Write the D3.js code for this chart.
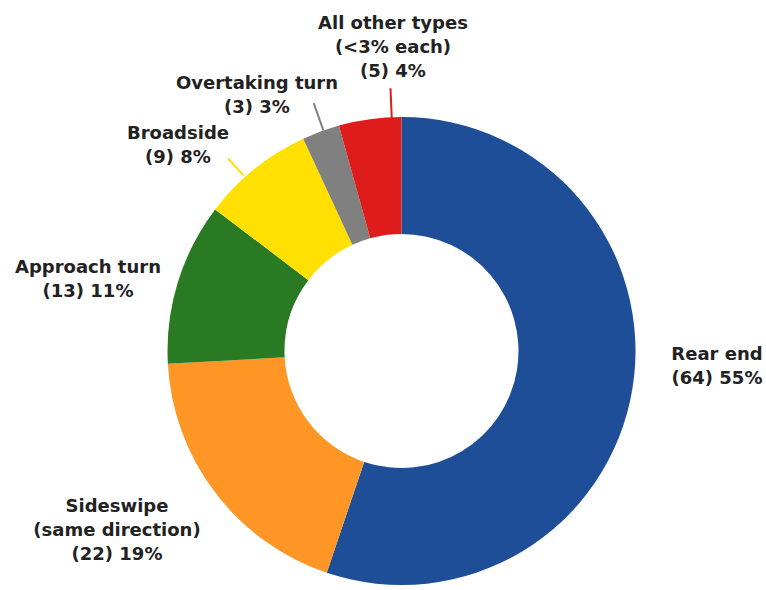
<!DOCTYPE html>
<html>
<head>
<meta charset="utf-8">
<script src="https://cdn.jsdelivr.net/npm/d3@7"></script>
<style>
  html, body { margin: 0; padding: 0; background: #fff; }
  svg { display: block; }
  text { font-family: "DejaVu Sans", Verdana, sans-serif; font-weight: bold; font-size: 18px; fill: #222; }
</style>
</head>
<body>
<svg id="chart" width="766" height="590"></svg>
<script>
// ---- data ----
const categories = ["Rear end", "Sideswipe (same direction)", "Approach turn", "Broadside", "Overtaking turn", "All other types"];
const counts = [64, 22, 13, 9, 3, 5];
const percents = [55, 19, 11, 8, 3, 4];
const labelLines = [
  ["Rear end", "(64) 55%"],
  ["Sideswipe", "(same direction)", "(22) 19%"],
  ["Approach turn", "(13) 11%"],
  ["Broadside", "(9) 8%"],
  ["Overtaking turn", "(3) 3%"],
  ["All other types", "(<3% each)", "(5) 4%"]
];
const colors = ["#1f4e99", "#ff9626", "#2a7a24", "#ffe000", "#808080", "#df1c1c"];

// ---- layout ----
const cx = 401.5, cy = 351, rOuter = 234, rInner = 117;
// label block: centre x, first-line visual centre y
const labelPos = [
  {x: 717, y: 353},
  {x: 117, y: 505},
  {x: 88,  y: 266},
  {x: 178, y: 132},
  {x: 257, y: 82},
  {x: 393, y: 22}
];
const lineGap = 24;
// leader lines: angle (deg), from radius to radius
const leaders = [
  {i: 3, a: -42, r0: 236, r1: 259},
  {i: 4, a: -19.5, r0: 234, r1: 263},
  {i: 5, a: -2.4, r0: 232, r1: 263}
];

const svg = d3.select("#chart");
const g = svg.append("g").attr("transform", `translate(${cx},${cy})`);

const pie = d3.pie().value(d => d).sort(null).startAngle(0).endAngle(2 * Math.PI);
const arc = d3.arc().innerRadius(rInner).outerRadius(rOuter);
const color = d3.scaleOrdinal().domain(d3.range(categories.length)).range(colors);

g.selectAll("path.slice")
  .data(pie(counts))
  .join("path")
  .attr("class", "slice")
  .attr("d", arc)
  .attr("fill", (d, i) => color(i));

const rad = Math.PI / 180;
g.selectAll("line.leader")
  .data(leaders)
  .join("line")
  .attr("class", "leader")
  .attr("x1", d => d.r0 * Math.sin(d.a * rad))
  .attr("y1", d => -d.r0 * Math.cos(d.a * rad))
  .attr("x2", d => d.r1 * Math.sin(d.a * rad))
  .attr("y2", d => -d.r1 * Math.cos(d.a * rad))
  .attr("stroke", d => color(d.i))
  .attr("stroke-width", 2);

const labels = svg.selectAll("text.lbl")
  .data(labelLines)
  .join("text")
  .attr("class", "lbl")
  .attr("text-anchor", "middle");

labels.each(function(lines, i) {
  const t = d3.select(this);
  lines.forEach((s, k) => {
    t.append("tspan")
      .attr("x", labelPos[i].x)
      .attr("y", labelPos[i].y + k * lineGap + 6.5)
      .text(s);
  });
});
</script>
</body>
</html>
